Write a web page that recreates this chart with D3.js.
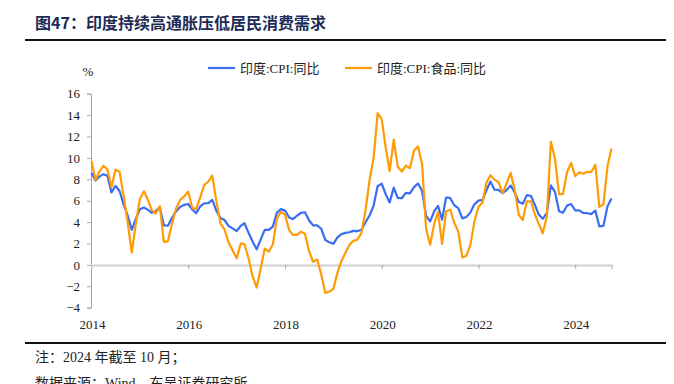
<!DOCTYPE html>
<html lang="zh">
<head>
<meta charset="UTF-8">
<title>图47</title>
<style>
body{margin:0;background:#fff;}
svg text{font-family:"Liberation Serif","Noto Sans CJK SC",serif;}
</style>
</head>
<body>
<script src="https://cdn.jsdelivr.net/npm/d3@7/dist/d3.min.js"></script>
<script>
// monthly, 2014-01 .. 2024-10
var startMonth=new Date(2014,0,1), endMonth=new Date(2024,9,1)
var yearTicks=[2014,2016,2018,2020,2022,2024]
var yTicks=[-4,-2,0,2,4,6,8,10,12,14,16]
var seriesNames=['印度:CPI:同比','印度:CPI:食品:同比']

var cpi=[
 8.60,7.88,8.25,8.48,8.33,6.77,7.39,6.91,5.63,4.62,3.27,4.28,
 5.19,5.37,5.17,4.87,5.01,5.40,3.69,3.66,4.41,5.00,5.41,5.61,
 5.69,5.18,4.83,5.47,5.76,5.77,6.07,5.05,4.39,4.20,3.63,3.41,
 3.17,3.65,3.89,2.99,2.18,1.46,2.36,3.28,3.28,3.58,4.88,5.21,
 5.07,4.44,4.28,4.58,4.87,4.92,4.17,3.69,3.70,3.38,2.33,2.11,
 1.97,2.57,2.86,2.99,3.05,3.18,3.15,3.28,3.99,4.62,5.54,7.35,
 7.59,6.58,5.84,7.22,6.27,6.23,6.73,6.69,7.27,7.61,6.93,4.59,
 4.06,5.03,5.52,4.23,6.30,6.26,5.59,5.30,4.35,4.48,4.91,5.66,
 6.01,6.07,6.95,7.79,7.04,7.01,6.71,7.00,7.41,6.77,5.88,5.72,
 6.52,6.44,5.66,4.70,4.31,4.87,7.44,6.83,5.02,4.87,5.55,5.69,
 5.10,5.09,4.85,4.83,4.75,5.08,3.60,3.65,5.49,6.21]
var food=[
 9.70,7.95,8.70,9.25,8.95,7.25,8.90,8.70,6.45,4.00,1.15,3.80,
 6.14,6.88,6.14,5.11,4.80,5.48,2.15,2.20,3.88,5.25,6.07,6.40,
 6.85,5.30,5.21,6.32,7.47,7.79,8.35,5.91,3.88,3.32,2.11,1.37,
 0.61,2.01,1.93,0.61,-1.05,-2.12,-0.36,1.52,1.25,1.90,4.35,4.96,
 4.70,3.26,2.81,2.80,3.10,2.91,1.30,0.29,0.51,-0.86,-2.61,-2.51,
 -2.24,-0.73,0.30,1.10,1.83,2.25,2.36,2.99,5.11,7.89,10.01,14.19,
 13.63,10.90,8.76,11.70,9.20,8.72,9.27,9.05,10.68,11.07,9.43,3.41,
 1.89,3.87,4.94,1.96,5.01,5.15,3.96,3.11,0.68,0.85,1.87,4.05,
 5.43,5.85,7.68,8.38,7.97,7.75,6.69,7.62,8.60,7.01,4.67,4.19,
 5.94,5.95,4.79,3.84,2.96,4.55,11.51,9.94,6.62,6.61,8.70,9.53,
 8.30,8.66,8.52,8.70,8.69,9.36,5.42,5.66,9.24,10.87]

var months=d3.timeMonth.range(startMonth,d3.timeMonth.offset(endMonth,1))
var colors=['#3a6cf4','#ff9b05']

var width=674,height=384
var svg=d3.select('body').append('svg').attr('width',width).attr('height',height)

var x=d3.scaleTime().domain([startMonth,endMonth]).range([91.5,611.5])
var y=d3.scaleLinear().domain([-4,16]).range([307.7,93.7])

// title + rules
svg.append('text').attr('x',35).attr('y',29)
    .style('font-family','"Noto Sans CJK SC",sans-serif').style('font-weight','bold')
    .style('font-size','16px').attr('fill','#1d2b57')
    .text('图47：印度持续高通胀压低居民消费需求')
svg.append('line').attr('x1',25).attr('x2',666).attr('y1',40).attr('y2',40)
    .attr('stroke','#111').attr('stroke-width',2)
svg.append('line').attr('x1',25).attr('x2',666).attr('y1',343).attr('y2',343)
    .attr('stroke','#111').attr('stroke-width',2)

// y axis
var yAxis=d3.axisLeft(y).tickValues(yTicks).tickSize(4).tickPadding(7)
var gy=svg.append('g').attr('transform','translate(91,0)').call(yAxis)
gy.select('.domain').attr('stroke','#a6a6a6')
gy.selectAll('.tick line').attr('stroke','#a6a6a6')
gy.selectAll('text').style('font-size','13px').attr('fill','#222').style('font-family','"Liberation Serif",serif')

// x axis at zero
var tickDates=yearTicks.map(function(d){return new Date(d,0,1)})
var xAxis=d3.axisBottom(x).tickValues(tickDates.slice(1)).tickSize(4).tickFormat('')
var gx=svg.append('g').attr('transform','translate(0,'+y(0)+')').call(xAxis)
gx.select('.domain').attr('stroke','#d0d0d0').attr('stroke-width',2)
gx.selectAll('.tick line').attr('stroke','#a6a6a6')

svg.append('g').selectAll('text').data(tickDates).enter().append('text')
    .attr('x',function(d){return x(d)+1}).attr('y',329)
    .attr('text-anchor','middle').style('font-size','13px').attr('fill','#222')
    .text(function(d){return d.getFullYear()})

svg.append('text').attr('x',88).attr('y',76).attr('text-anchor','middle')
    .style('font-size','13px').attr('fill','#222').text('%')

// lines
var line=d3.line().x(function(d,i){return x(months[i])}).y(function(d){return y(d)})
;[cpi,food].forEach(function(s,k){
    svg.append('path').datum(s).attr('d',line).attr('fill','none')
        .attr('stroke',colors[k]).attr('stroke-width',2.2).attr('stroke-linejoin','round')
})

// legend
var legX=[208,345]
seriesNames.forEach(function(n,k){
    svg.append('line').attr('x1',legX[k]).attr('x2',legX[k]+27).attr('y1',68).attr('y2',68)
        .attr('stroke',colors[k]).attr('stroke-width',2.2)
    svg.append('text').attr('x',legX[k]+32).attr('y',73).style('font-size','13px')
        .attr('fill','#222').text(n)
})

// notes
svg.append('text').attr('x',35).attr('y',362).style('font-size','14px').attr('fill','#222')
    .text('注：2024 年截至 10 月；')
svg.append('text').attr('x',35).attr('y',388).style('font-size','14px').attr('fill','#222')
    .text('数据来源：Wind，东吴证券研究所')
</script>
</body>
</html>
